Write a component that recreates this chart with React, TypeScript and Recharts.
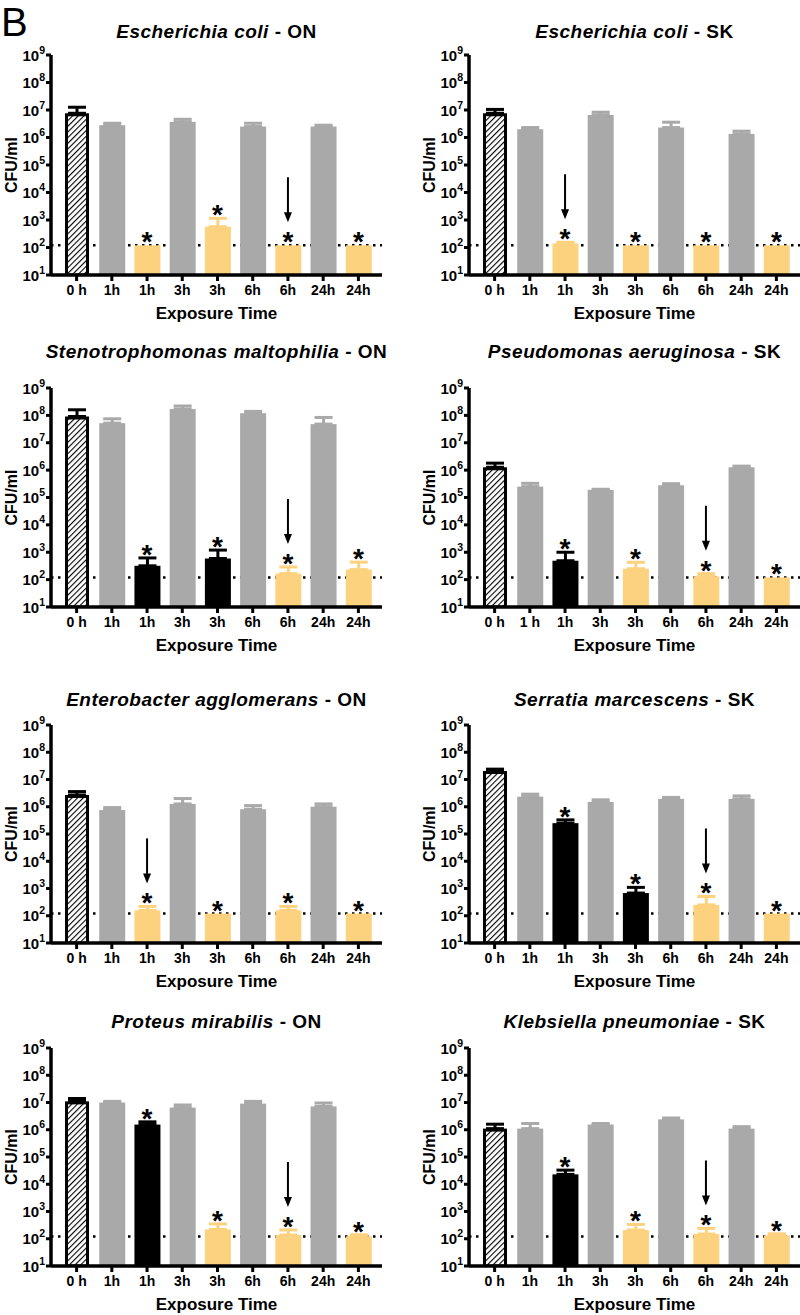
import React from 'react';
import { ComposedChart, Bar, ErrorBar, XAxis, YAxis, ReferenceLine, Scatter } from 'recharts';

const FONT = '"Liberation Sans", Arial, Helvetica, sans-serif';

// ---------- shared data ----------
const timeLabels = ['0 h', '1h', '1h', '3h', '3h', '6h', '6h', '24h', '24h'];
const timeLabelsPa = ['0 h', '1 h', '1h', '3h', '3h', '6h', '6h', '24h', '24h'];
const yTicks = [1e1, 1e2, 1e3, 1e4, 1e5, 1e6, 1e7, 1e8, 1e9];
const detectionLimit = 120;

// kinds: hatch = 0 h control, gray = untreated, yellow = treated (at limit), black = treated
const kindsA = ['hatch', 'gray', 'yellow', 'gray', 'yellow', 'gray', 'yellow', 'gray', 'yellow'];
const kindsSteno = ['hatch', 'gray', 'black', 'gray', 'black', 'gray', 'yellow', 'gray', 'yellow'];
const kindsB = ['hatch', 'gray', 'black', 'gray', 'yellow', 'gray', 'yellow', 'gray', 'yellow'];

// Escherichia coli - ON
const ecoliOnMean = [7.6e6, 2.8e6, 120, 3.7e6, 570, 2.5e6, 120, 2.5e6, 120];
const ecoliOnUpper = [1.26e7, 3.3e6, null, 4.6e6, 1150, 3.3e6, null, 2.8e6, null];
// Escherichia coli - SK
const ecoliSkMean = [7.6e6, 2.0e6, 140, 6.6e6, 120, 2.3e6, 120, 1.35e6, 120];
const ecoliSkUpper = [1.05e7, 2.3e6, 155, 8.3e6, null, 3.6e6, null, 1.7e6, null];
// Stenotrophomonas maltophilia - ON
const stenoMean = [9.1e7, 5.2e7, 320, 1.7e8, 590, 1.2e8, 166, 4.8e7, 233];
const stenoUpper = [1.6e8, 7.5e7, 620, 2.2e8, 1200, 1.4e8, 290, 8.4e7, 435];
// Pseudomonas aeruginosa - SK
const pseudoMean = [1.27e6, 2.5e5, 490, 1.9e5, 250, 2.8e5, 133, 1.27e6, 120];
const pseudoUpper = [1.8e6, 3.3e5, 1000, 2.0e5, 430, 3.2e5, 165, 1.4e6, null];
// Enterobacter agglomerans - ON
const enteroMean = [2.7e6, 7.6e5, 158, 1.27e6, 120, 8.1e5, 158, 1.0e6, 120];
const enteroUpper = [3.6e6, 9.3e5, 220, 2.0e6, null, 1.1e6, 220, 1.27e6, null];
// Serratia marcescens - SK
const serratiaMean = [2.05e7, 2.35e6, 2.5e5, 1.5e6, 680, 1.95e6, 250, 1.95e6, 120];
const serratiaUpper = [2.4e7, 2.9e6, 3.3e5, 1.8e6, 1100, 2.2e6, 510, 2.5e6, null];
// Proteus mirabilis - ON
const proteusMean = [1.1e7, 1.0e7, 1.55e6, 6.5e6, 220, 9.1e6, 137, 7.2e6, 122];
const proteusUpper = [1.4e7, 1.1e7, 1.95e6, 8.1e6, 350, 1.1e7, 210, 9.6e6, 140];
// Klebsiella pneumoniae - SK
const klebMean = [1.1e6, 1.1e6, 2.3e4, 1.55e6, 209, 2.4e6, 149, 1.1e6, 132];
const klebUpper = [1.6e6, 1.7e6, 3.3e4, 1.7e6, 335, 2.7e6, 240, 1.3e6, 152];

const COLORS: Record<string, string> = {
  hatch: '#000000',
  gray: '#a9a9a9',
  yellow: '#fdd27f',
  black: '#000000',
};

type PanelDef = {
  id: string;
  species: string;
  suffix: string;
  labels: string[];
  kinds: string[];
  mean: number[];
  upper: (number | null)[];
  arrow: number;
  col: number;
  row: number;
};

const panels: PanelDef[] = [
  { id: 'p1', species: 'Escherichia coli', suffix: ' - ON', labels: timeLabels, kinds: kindsA, mean: ecoliOnMean, upper: ecoliOnUpper, arrow: 6, col: 0, row: 0 },
  { id: 'p2', species: 'Escherichia coli', suffix: ' - SK', labels: timeLabels, kinds: kindsA, mean: ecoliSkMean, upper: ecoliSkUpper, arrow: 2, col: 1, row: 0 },
  { id: 'p3', species: 'Stenotrophomonas maltophilia', suffix: ' - ON', labels: timeLabels, kinds: kindsSteno, mean: stenoMean, upper: stenoUpper, arrow: 6, col: 0, row: 1 },
  { id: 'p4', species: 'Pseudomonas aeruginosa', suffix: ' - SK', labels: timeLabelsPa, kinds: kindsB, mean: pseudoMean, upper: pseudoUpper, arrow: 6, col: 1, row: 1 },
  { id: 'p5', species: 'Enterobacter agglomerans', suffix: ' - ON', labels: timeLabels, kinds: kindsA, mean: enteroMean, upper: enteroUpper, arrow: 2, col: 0, row: 2 },
  { id: 'p6', species: 'Serratia marcescens', suffix: ' - SK', labels: timeLabels, kinds: kindsSteno, mean: serratiaMean, upper: serratiaUpper, arrow: 6, col: 1, row: 2 },
  { id: 'p7', species: 'Proteus mirabilis', suffix: ' - ON', labels: timeLabels, kinds: kindsB, mean: proteusMean, upper: proteusUpper, arrow: 6, col: 0, row: 3 },
  { id: 'p8', species: 'Klebsiella pneumoniae', suffix: ' - SK', labels: timeLabels, kinds: kindsB, mean: klebMean, upper: klebUpper, arrow: 6, col: 1, row: 3 },
];

// layout
const rowPlotTop = [55, 388, 725, 1048];
const rowPlotBottom = [275, 607, 943, 1266];
const rowTitleY = [32, 352, 700, 1022];
const colLeft = [0, 418];
const CHART_W = 382;
const Y_AXIS_W = 51;
const TOP_M = 20;
const X_AXIS_H = 52;

function buildRows(p: PanelDef) {
  return p.labels.map((label, i) => {
    const kind = p.kinds[i];
    const mean = p.mean[i];
    const up = p.upper[i];
    const err = up != null ? [0, up - mean] : undefined;
    const star = kind === 'yellow' || kind === 'black';
    return {
      slot: String(i),
      label,
      kind,
      value: mean,
      errHatch: kind === 'hatch' ? err : undefined,
      errGray: kind === 'gray' ? err : undefined,
      errYellow: kind === 'yellow' ? err : undefined,
      errBlack: kind === 'black' ? err : undefined,
      mark: star ? (up != null ? up : mean) : null,
      star,
      arrow: i === p.arrow,
    };
  });
}

const YTick = (props: any) => {
  const { x, y, payload } = props;
  const exp = Math.round(Math.log10(payload.value));
  return (
    <text x={x} y={y} dy={5.5} textAnchor="end" fontFamily={FONT} fontWeight="bold" fontSize={15} fill="#000">
      10<tspan dy={-7} fontSize={10.5}>{exp}</tspan>
    </text>
  );
};

const makeBarShape = (pid: string) => (props: any) => {
  const { x, y, width, height, payload } = props;
  if (!Number.isFinite(y) || !Number.isFinite(height)) return <g />;
  if (payload.kind === 'hatch') {
    return (
      <g>
        <defs>
          <pattern id={`hatch-${pid}`} patternUnits="userSpaceOnUse" width={4} height={4} patternTransform="rotate(45)">
            <rect x={0} y={0} width={4} height={4} fill="#fff" />
            <line x1={0} y1={0} x2={0} y2={4} stroke="#000" strokeWidth={2.2} />
          </pattern>
        </defs>
        <rect x={x + 2.5} y={y + 1.5} width={width - 5} height={height - 1.5} fill={`url(#hatch-${pid})`} stroke="#000" strokeWidth={3} />
      </g>
    );
  }
  return <rect x={x} y={y} width={width} height={height} fill={COLORS[payload.kind]} />;
};

const markShape = (props: any) => {
  const { cx, cy, payload } = props;
  if (!payload || !payload.star || !Number.isFinite(cy) || !Number.isFinite(cx)) return <g />;
  return (
    <g>
      <text x={cx} y={cy + 6} textAnchor="middle" fontFamily={FONT} fontWeight="bold" fontSize={28} fill="#000">*</text>
      {payload.arrow ? (
        <g>
          <line x1={cx} y1={cy - 68} x2={cx} y2={cy - 31} stroke="#000" strokeWidth={2} />
          <polygon points={`${cx - 4},${cy - 33} ${cx + 4},${cy - 33} ${cx},${cy - 23}`} fill="#000" />
        </g>
      ) : null}
    </g>
  );
};

function Panel({ p }: { p: PanelDef }) {
  const rows = buildRows(p);
  const plotTop = rowPlotTop[p.row];
  const plotBottom = rowPlotBottom[p.row];
  const chartTop = plotTop - TOP_M;
  const chartH = plotBottom - plotTop + TOP_M + X_AXIS_H;
  const left = colLeft[p.col];
  const titleY = rowTitleY[p.row];
  const refProps: any = { zIndex: 100 };
  return (
    <>
      <div
        style={{
          position: 'absolute',
          left: left + Y_AXIS_W - 40,
          width: CHART_W - Y_AXIS_W + 80,
          top: titleY - 12,
          height: 24,
          lineHeight: '24px',
          textAlign: 'center',
          fontFamily: FONT,
          fontWeight: 'bold',
          fontSize: 19,
          letterSpacing: 0.5,
          color: '#000',
          whiteSpace: 'nowrap',
        }}
      >
        <i>{p.species}</i>
        {p.suffix}
      </div>
      <div style={{ position: 'absolute', left, top: chartTop }}>
        <ComposedChart width={CHART_W} height={chartH} data={rows} margin={{ top: TOP_M, right: 0, bottom: 0, left: 0 }}>
          <XAxis
            dataKey="slot"
            type="category"
            height={X_AXIS_H}
            padding={{ left: 8, right: 6 }}
            interval={0}
            tickFormatter={(v: any) => p.labels[Number(v)]}
            tick={{ fill: '#000', fontSize: 14, fontWeight: 'bold', fontFamily: FONT }}
            tickSize={6}
            tickMargin={4}
            axisLine={{ stroke: '#000', strokeWidth: 3.5 }}
            tickLine={{ stroke: '#000', strokeWidth: 3 }}
            label={{
              content: (lp: any) => {
                const vb = lp.viewBox || {};
                return (
                  <text x={vb.x + vb.width / 2} y={vb.y + 44} textAnchor="middle" fontFamily={FONT} fontWeight="bold" fontSize={17} fill="#000">
                    Exposure Time
                  </text>
                );
              },
            }}
          />
          <YAxis
            type="number"
            scale="log"
            domain={[10, 1e9]}
            allowDataOverflow
            ticks={yTicks}
            interval={0}
            width={Y_AXIS_W}
            tick={<YTick />}
            tickSize={5}
            tickMargin={1}
            axisLine={{ stroke: '#000', strokeWidth: 3.5 }}
            tickLine={{ stroke: '#000', strokeWidth: 3 }}
            label={{
              content: (lp: any) => {
                const vb = lp.viewBox || {};
                const cx = vb.x + 11;
                const cy = vb.y + vb.height / 2;
                return (
                  <text x={cx} y={cy} transform={`rotate(-90 ${cx} ${cy})`} textAnchor="middle" dominantBaseline="central" fontFamily={FONT} fontWeight="bold" fontSize={16} fill="#000">
                    CFU/ml
                  </text>
                );
              },
            }}
          />
          <ReferenceLine y={detectionLimit} stroke="#000" strokeWidth={2.5} strokeDasharray="2.5 4.5" {...refProps} />
          <Bar dataKey="value" barSize={26} isAnimationActive={false} shape={makeBarShape(p.id)}>
            <ErrorBar dataKey="errHatch" direction="y" width={9} stroke={COLORS.hatch} strokeWidth={3} />
            <ErrorBar dataKey="errGray" direction="y" width={9} stroke={COLORS.gray} strokeWidth={3} />
            <ErrorBar dataKey="errYellow" direction="y" width={9} stroke={COLORS.yellow} strokeWidth={3} />
            <ErrorBar dataKey="errBlack" direction="y" width={9} stroke={COLORS.black} strokeWidth={3} />
          </Bar>
          <Scatter dataKey="mark" isAnimationActive={false} shape={markShape} />
        </ComposedChart>
      </div>
    </>
  );
}

export default function App() {
  return (
    <div style={{ position: 'absolute', left: 0, top: 0, width: 800, height: 1315, background: '#fff', overflow: 'hidden' }}>
      <div style={{ position: 'absolute', left: 1, top: 0, fontFamily: FONT, fontSize: 40, lineHeight: 'normal', color: '#000' }}>B</div>
      {panels.map((p) => (
        <Panel key={p.id} p={p} />
      ))}
    </div>
  );
}
